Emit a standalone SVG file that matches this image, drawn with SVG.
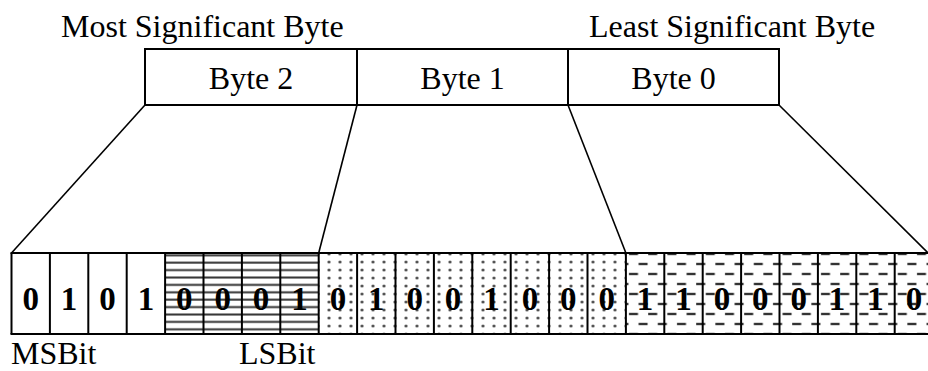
<svg xmlns="http://www.w3.org/2000/svg" width="928" height="371" viewBox="0 0 928 371">
  <style>
    .lbl { font-family: "Liberation Serif", "Times New Roman", serif; font-size: 32px; fill: #000; }
    .bit { font-family: "Liberation Serif", "Times New Roman", serif; font-size: 33px; font-weight: bold; fill: #000; text-anchor: middle; }
    .box { fill: #fff; stroke: #000; stroke-width: 2; }
    .cell { stroke: #000; stroke-width: 2; }
    .conn { stroke: #000; stroke-width: 1.6; fill: none; }
  </style>
  <defs>
    <!-- horizontal rules for the low nibble of byte 2 -->
    <pattern id="hlines" patternUnits="userSpaceOnUse" x="0" y="252" width="10" height="7.4">
      <rect width="10" height="7.4" fill="#fff"/>
      <line x1="0" y1="3.3" x2="10" y2="3.3" stroke="#333" stroke-width="2"/>
    </pattern>
    <!-- dot grid for byte 1 -->
    <pattern id="dots" patternUnits="userSpaceOnUse" x="312.5" y="250" width="11" height="8">
      <rect width="11" height="8" fill="#fff"/>
      <circle cx="5.5" cy="4" r="1.5" fill="#444"/>
    </pattern>
    <!-- staggered dashes for byte 0 -->
    <pattern id="dashes" patternUnits="userSpaceOnUse" x="626" y="249" width="19.2" height="20">
      <rect width="19.2" height="20" fill="#fff"/>
      <line x1="3" y1="5" x2="12" y2="5" stroke="#333" stroke-width="2.4"/>
      <line x1="12.6" y1="15" x2="21.6" y2="15" stroke="#333" stroke-width="2.4"/>
      <line x1="-6.6" y1="15" x2="2.4" y2="15" stroke="#333" stroke-width="2.4"/>
    </pattern>
  </defs>

  <rect width="928" height="371" fill="#fff"/>

  <!-- headings -->
  <text class="lbl" x="61" y="37">Most Significant Byte</text>
  <text class="lbl" x="589" y="37">Least Significant Byte</text>

  <!-- connectors from byte boxes down to the bit row -->
  <g id="connectors">
    <line class="conn" x1="145" y1="105" x2="11.5" y2="253"/>
    <line class="conn" x1="357" y1="105" x2="318.7" y2="253"/>
    <line class="conn" x1="568" y1="105" x2="625.9" y2="253"/>
    <line class="conn" x1="779" y1="105" x2="928" y2="253"/>
  </g>

  <!-- byte boxes -->
  <g id="byte2">
    <rect class="box" x="145" y="49" width="212" height="56"/>
    <text class="lbl" x="251" y="89" text-anchor="middle">Byte 2</text>
  </g>
  <g id="byte1">
    <rect class="box" x="357" y="49" width="211" height="56"/>
    <text class="lbl" x="462.5" y="89" text-anchor="middle">Byte 1</text>
  </g>
  <g id="byte0">
    <rect class="box" x="568" y="49" width="211" height="56"/>
    <text class="lbl" x="673.5" y="89" text-anchor="middle">Byte 0</text>
  </g>

  <!-- bit row: 24 cells, 38.4 px each, starting at x=11.5 -->
  <g id="bits">
    <rect x="11.5" y="253" width="153.6" height="81" fill="#fff"/>
    <rect x="165.1" y="253" width="153.6" height="81" fill="url(#hlines)"/>
    <rect x="318.7" y="253" width="307.2" height="81" fill="url(#dots)"/>
    <rect x="625.9" y="253" width="307.2" height="81" fill="url(#dashes)"/>
    <g class="cell">
      <line x1="10.5" y1="253" x2="934" y2="253"/>
      <line x1="10.5" y1="334" x2="934" y2="334"/>
      <line x1="11.5" y1="253" x2="11.5" y2="334"/>
      <line x1="49.9" y1="253" x2="49.9" y2="334"/>
      <line x1="88.3" y1="253" x2="88.3" y2="334"/>
      <line x1="126.7" y1="253" x2="126.7" y2="334"/>
      <line x1="165.1" y1="253" x2="165.1" y2="334"/>
      <line x1="203.5" y1="253" x2="203.5" y2="334"/>
      <line x1="241.9" y1="253" x2="241.9" y2="334"/>
      <line x1="280.3" y1="253" x2="280.3" y2="334"/>
      <line x1="318.7" y1="253" x2="318.7" y2="334"/>
      <line x1="357.1" y1="253" x2="357.1" y2="334"/>
      <line x1="395.5" y1="253" x2="395.5" y2="334"/>
      <line x1="433.9" y1="253" x2="433.9" y2="334"/>
      <line x1="472.3" y1="253" x2="472.3" y2="334"/>
      <line x1="510.7" y1="253" x2="510.7" y2="334"/>
      <line x1="549.1" y1="253" x2="549.1" y2="334"/>
      <line x1="587.5" y1="253" x2="587.5" y2="334"/>
      <line x1="625.9" y1="253" x2="625.9" y2="334"/>
      <line x1="664.3" y1="253" x2="664.3" y2="334"/>
      <line x1="702.7" y1="253" x2="702.7" y2="334"/>
      <line x1="741.1" y1="253" x2="741.1" y2="334"/>
      <line x1="779.5" y1="253" x2="779.5" y2="334"/>
      <line x1="817.9" y1="253" x2="817.9" y2="334"/>
      <line x1="856.3" y1="253" x2="856.3" y2="334"/>
      <line x1="894.7" y1="253" x2="894.7" y2="334"/>
      <line x1="933.1" y1="253" x2="933.1" y2="334"/>
    </g>
    <g>
      <text class="bit" x="30.7" y="309.5">0</text>
      <text class="bit" x="69.1" y="309.5">1</text>
      <text class="bit" x="107.5" y="309.5">0</text>
      <text class="bit" x="145.9" y="309.5">1</text>
      <text class="bit" x="184.3" y="309.5">0</text>
      <text class="bit" x="222.7" y="309.5">0</text>
      <text class="bit" x="261.1" y="309.5">0</text>
      <text class="bit" x="299.5" y="309.5">1</text>
      <text class="bit" x="337.9" y="309.5">0</text>
      <text class="bit" x="376.3" y="309.5">1</text>
      <text class="bit" x="414.7" y="309.5">0</text>
      <text class="bit" x="453.1" y="309.5">0</text>
      <text class="bit" x="491.5" y="309.5">1</text>
      <text class="bit" x="529.9" y="309.5">0</text>
      <text class="bit" x="568.3" y="309.5">0</text>
      <text class="bit" x="606.7" y="309.5">0</text>
      <text class="bit" x="645.1" y="309.5">1</text>
      <text class="bit" x="683.5" y="309.5">1</text>
      <text class="bit" x="721.9" y="309.5">0</text>
      <text class="bit" x="760.3" y="309.5">0</text>
      <text class="bit" x="798.7" y="309.5">0</text>
      <text class="bit" x="837.1" y="309.5">1</text>
      <text class="bit" x="875.5" y="309.5">1</text>
      <text class="bit" x="913.9" y="309.5">0</text>
    </g>
  </g>

  <!-- bit order labels -->
  <text class="lbl" x="11" y="364">MSBit</text>
  <text class="lbl" x="239" y="364">LSBit</text>
</svg>
